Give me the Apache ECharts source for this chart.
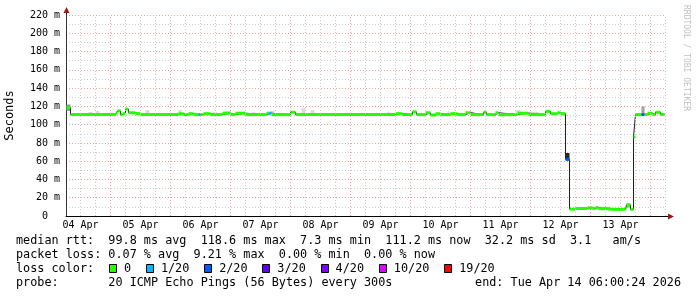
<!DOCTYPE html>
<html><head><meta charset="utf-8">
<script src="https://cdn.jsdelivr.net/npm/echarts@6/dist/echarts.min.js"></script>
<style>html,body{margin:0;padding:0;background:#fff}#c{width:697px;height:297px}</style>
</head><body><div id="c"></div>
<script>
// ---- data (hours since 04 Apr 00:00) ----
const times = [6.4, 8.0, 26.0, 26.8, 28.0, 28.8, 30.0, 31.2, 34.0, 36.0, 51.2, 53.2, 55.2, 57.2, 59.2, 60.0, 61.2, 64.0, 68.8, 72.0, 74.0, 78.0, 86.4, 87.2, 88.4, 96.0, 98.0, 138.0, 140.8, 144.8, 146.4, 150.0, 152.0, 154.0, 156.0, 160.0, 162.8, 166.0, 168.0, 173.2, 174.4, 178.0, 179.2, 186.8, 191.2, 198.0, 200.0, 202.8, 204.0, 206.0, 207.6, 210.0, 214.8, 216.8, 218.0, 219.2, 224.0, 230.0, 230.4, 232.0, 233.2, 234.0, 236.4, 237.6, 238.8, 240.8, 242.0, 244.0];
const medians = [118.6, 111, 112, 115, 111, 112, 117, 113, 112, 111, 112, 111, 112, 111, 111, 111, 112, 111, 112.5, 111, 112.5, 111, 112.5, 112.5, 111, 113.5, 111, 112, 111, 114, 111, 113, 110.5, 112, 111, 112, 111, 113, 111, 113.5, 111, 113, 111, 112.5, 111, 114.5, 112, 113, 112, 62, 7.5, 8.2, 9.0, 8.2, 9.2, 8.0, 7.3, 8.0, 12, 7.3, 86.5, 111, 111, 111, 112.5, 111, 113.5, 111.2];
const lossTwentieths = [0,0,0,0,0,0,0,0,0,0, 0,0,0,0,1,0,0,0,0,0, 0,0,0,1,0,0,0,0,0,0, 0,0,0,0,0,0,0,0,0,0, 0,0,0,0,0,0,0,0,0,2, 0,0,0,0,0,0,0,0,0,0, 0,0,2,0,0,0,0,0];
const endTime = 245.6;

const smokeStart = [6.4, 15.2, 18.0, 38.0, 51.2, 64.8, 69.6, 80.4, 88.0, 100.4, 104.0, 134.8, 158.8, 168.0, 186.0, 189.2, 206.0, 230.4, 236.4, 241.6];
const smokeEnd   = [8.0, 16.8, 19.6, 39.6, 52.4, 66.8, 72.0, 82.0, 89.6, 102.0, 105.6, 135.6, 159.6, 169.2, 188.0, 195.2, 207.6, 232.0, 237.6, 242.8];
const smokeLow   = [115, 112, 112, 112, 112, 112, 113, 112, 113, 112, 112, 112, 112, 112, 113, 112, 62, 9, 112, 112];
const smokeHigh  = [122, 114, 115, 116, 116, 113.5, 115, 113.5, 115, 118, 116, 114, 115, 114, 116, 114, 69, 14, 120, 114];
const smokePings = [9, 3, 3, 3, 3, 3, 3, 3, 3, 3, 3, 3, 3, 3, 3, 3, 18, 6, 8, 3];

const dayLabels = ['04 Apr','05 Apr','06 Apr','07 Apr','08 Apr','09 Apr','10 Apr','11 Apr','12 Apr','13 Apr'];
const dayNoonHours = [12, 36, 60, 84, 108, 132, 156, 180, 204, 228];

const lossLevels = [0, 1, 2, 3, 4, 10, 19];
const lossLabels = ['0','1/20','2/20','3/20','4/20','10/20','19/20'];

const statLines = [
  'median rtt:  99.8 ms avg  118.6 ms max  7.3 ms min  111.2 ms now  32.2 ms sd  3.1   am/s',
  'packet loss: 0.07 % avg  9.21 % max  0.00 % min  0.00 % now',
  'loss color:',
  'probe:       20 ICMP Echo Pings (56 Bytes) every 300s'
];
const endText = 'end: Tue Apr 14 06:00:24 2026';

// ---- styles ----
const lossColors = ['#26ff00','#00b8ff','#0059ff','#5e00ff','#7e00ff','#dd00ff','#ff0000'];
const MONO = '"DejaVu Sans Mono", monospace';
const LEG_FONT = '11.8px ' + MONO;
const G = {left: 66, top: 15, width: 600, height: 201};
const xMin = 6.2, xMax = 246.2;

function lossColor(l) {
  for (let i = 0; i < lossLevels.length; i++) if (l <= lossLevels[i]) return lossColors[i];
  return lossColors[lossColors.length - 1];
}
function smokeColor(n) {
  const g = Math.max(0, Math.round(255 - n * 12));
  return 'rgb(' + g + ',' + g + ',' + g + ')';
}

const bandData = times.map((t, i) => [t, i + 1 < times.length ? times[i + 1] : endTime, medians[i], lossTwentieths[i]]);
const lineData = times.map((t, i) => [t, medians[i]]).concat([[endTime, medians[medians.length - 1]]]);
const smokeData = smokeStart.map((s, i) => [s, smokeEnd[i], smokeLow[i], smokeHigh[i], smokePings[i]]);

const minorV = [], majorV = [];
for (let h = 12; h < xMax; h += 6) (h % 24 === 0 ? majorV : minorV).push({xAxis: h});

const chart = echarts.init(document.getElementById('c'), null, {renderer: 'canvas'});

const ctx = document.createElement('canvas').getContext('2d');
ctx.font = LEG_FONT;
const cw = ctx.measureText('0000000000').width / 10;

const rowY = [241, 255, 269, 283];
const graphics = [];
statLines.forEach((s, i) => {
  graphics.push({type: 'text', x: 16, y: rowY[i], style: {text: s, font: LEG_FONT, fill: '#000', textVerticalAlign: 'middle'}});
});
graphics.push({type: 'text', x: 681, y: rowY[3], style: {text: endText, font: LEG_FONT, fill: '#000', textAlign: 'right', textVerticalAlign: 'middle'}});
// loss colour swatches + labels
let lx = 16 + 15.2 * cw;
lossLabels.forEach((l, i) => {
  graphics.push({type: 'rect', shape: {x: Math.round(lx - 15) + 0.5, y: rowY[2] - 4.5, width: 7, height: 8}, style: {fill: lossColors[i], stroke: '#000', lineWidth: 1}});
  graphics.push({type: 'text', x: lx, y: rowY[2], style: {text: l, font: LEG_FONT, fill: '#000', textVerticalAlign: 'middle'}});
  lx += l.length * cw + 4.2 * cw;
});
graphics.push({type: 'text', x: 686, y: 5, rotation: -Math.PI / 2, style: {text: 'RRDTOOL / TOBI OETIKER', font: '8px ' + MONO, fill: '#c0c0c0', textVerticalAlign: 'middle'}});
// axis extensions and arrowheads
const ox = G.left + 0.5, oy = G.top + G.height + 0.5;
graphics.push({type: 'line', shape: {x1: G.left + G.width, y1: oy, x2: G.left + G.width + 4, y2: oy}, style: {stroke: '#000', lineWidth: 1}});
graphics.push({type: 'polygon', shape: {points: [[G.left + G.width + 2, oy - 3], [G.left + G.width + 8, oy], [G.left + G.width + 2, oy + 3]]}, style: {fill: '#a01818'}});
graphics.push({type: 'line', shape: {x1: ox, y1: G.top, x2: ox, y2: G.top - 4}, style: {stroke: '#000', lineWidth: 1}});
graphics.push({type: 'polygon', shape: {points: [[ox - 3, G.top - 2], [ox, G.top - 8], [ox + 3, G.top - 2]]}, style: {fill: '#a01818'}});

const option = {
  animation: false,
  backgroundColor: '#fff',
  grid: {left: G.left, top: G.top, width: G.width, height: G.height, containLabel: false, outerBoundsMode: 'none'},
  xAxis: {
    type: 'value', min: xMin, max: xMax,
    axisLine: {show: true, lineStyle: {color: '#000', width: 1}},
    axisTick: {show: false},
    splitLine: {show: false},
    axisLabel: {
      customValues: dayNoonHours,
      formatter: v => { const i = dayNoonHours.indexOf(v); return i >= 0 ? dayLabels[i] : ''; },
      fontFamily: MONO, fontSize: 10, color: '#000', margin: 4
    }
  },
  yAxis: {
    type: 'value', min: 0, max: 220, interval: 20,
    name: 'Seconds', nameLocation: 'middle', nameGap: 50,
    nameTextStyle: {fontFamily: MONO, fontSize: 12, color: '#000'},
    axisLine: {show: true, lineStyle: {color: '#333', width: 1}},
    axisTick: {show: false},
    axisLabel: {formatter: v => v === 0 ? '0  ' : v + ' m', fontFamily: MONO, fontSize: 10, color: '#000', margin: 6},
    splitLine: {show: true, lineStyle: {color: '#f0a0a0', type: [1, 2], width: 1}},
    minorTick: {show: false, splitNumber: 2},
    minorSplitLine: {show: true, lineStyle: {color: '#cccccc', type: [1, 2], width: 1}}
  },
  graphic: graphics,
  series: [
    {
      type: 'line', data: [], silent: true, z: 0,
      markLine: {silent: true, symbol: ['none', 'none'], label: {show: false}, animation: false,
        lineStyle: {color: '#cccccc', type: [1, 2], width: 1}, emphasis: {disabled: true},
        data: minorV}
    },
    {
      type: 'line', data: [], silent: true, z: 0,
      markLine: {silent: true, symbol: ['none', 'none'], label: {show: false}, animation: false,
        lineStyle: {color: '#f0a0a0', type: [1, 2], width: 1}, emphasis: {disabled: true},
        data: majorV}
    },
    {
      type: 'custom', z: 2, silent: true, data: smokeData,
      encode: {x: [0, 1], y: [2, 3]},
      renderItem: (params, api) => {
        const p0 = api.coord([api.value(0), api.value(3)]);
        const p1 = api.coord([api.value(1), api.value(2)]);
        return {type: 'rect', shape: {x: p0[0], y: p0[1], width: p1[0] - p0[0], height: Math.max(1, p1[1] - p0[1])},
          style: {fill: smokeColor(api.value(4))}};
      }
    },
    {
      type: 'line', z: 3, silent: true, data: lineData, step: 'end', symbol: 'none',
      lineStyle: {color: '#202020', width: 1}
    },
    {
      type: 'custom', z: 4, silent: true, data: bandData,
      encode: {x: [0, 1], y: 2},
      renderItem: (params, api) => {
        const p0 = api.coord([api.value(0), api.value(2)]);
        const p1 = api.coord([api.value(1), api.value(2)]);
        return {type: 'rect', shape: {x: p0[0], y: p0[1] - 1.5, width: p1[0] - p0[0], height: 3},
          style: {fill: lossColor(api.value(3))}};
      }
    }
  ]
};
chart.setOption(option);
</script>
</body></html>
